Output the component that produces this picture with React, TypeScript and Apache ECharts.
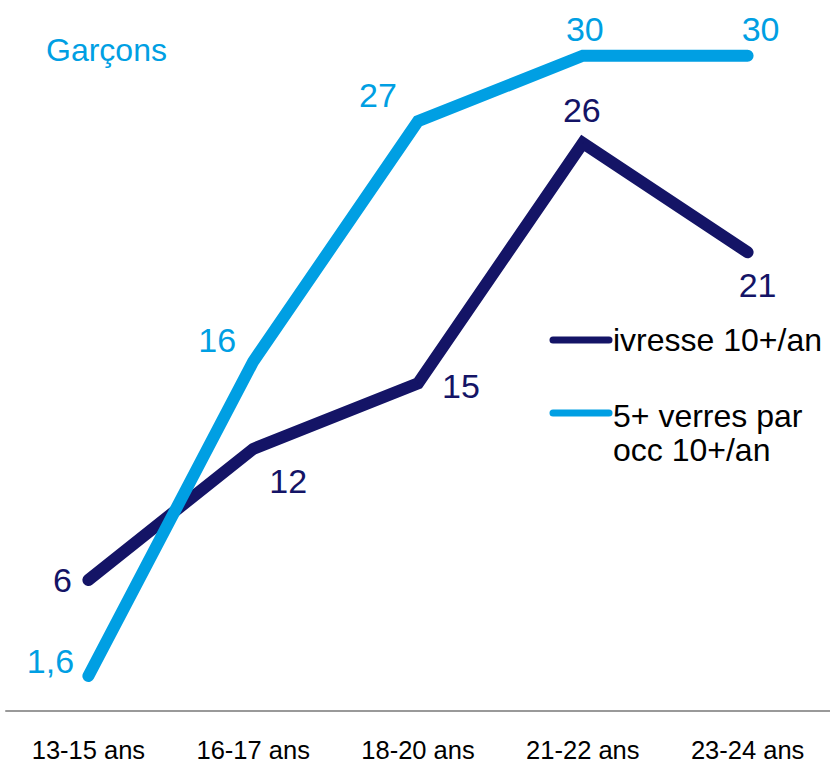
import React, { useEffect, useRef } from "react";
import * as echarts from "echarts";

const categories = ["13-15 ans", "16-17 ans", "18-20 ans", "21-22 ans", "23-24 ans"];
const ivresse = [6, 12, 15, 26, 21];
const binge = [1.6, 16, 27, 30, 30];
const seriesNames = ["ivresse 10+/an", "5+ verres par occ 10+/an"];
const titleText = "Garçons";

const DARK = "#141466";
const LIGHT = "#009FE3";
const FONT = '"Liberation Sans", Arial, sans-serif';

// label offsets relative to each point (layout only)
const darkOffsets = [[-26, 0], [35, 32], [43, 3], [-1, -33], [10, 33]];
const lightOffsets = [[-38, -15], [-36, -22], [-40, -26], [2, -27], [13, -27]];

const fmt = (v: number) => String(v).replace(".", ",");

function buildData(values: number[], offsets: number[][], color: string) {
  return values.map((v, i) => ({
    value: v,
    label: {
      show: true,
      position: "inside",
      offset: offsets[i],
      formatter: fmt(v),
      color,
      fontSize: 34,
      fontFamily: FONT,
    },
  }));
}

export default function App() {
  const ref = useRef<HTMLDivElement>(null);
  useEffect(() => {
    if (!ref.current) return;
    const chart = echarts.init(ref.current, null, { renderer: "svg" });
    chart.setOption({
      animation: false,
      backgroundColor: "#ffffff",
      grid: { left: 6, right: -4, top: 12, bottom: 53, containLabel: false },
      xAxis: {
        type: "category",
        data: categories,
        boundaryGap: true,
        axisLine: { show: true, lineStyle: { color: "#999999", width: 2 } },
        axisTick: { show: false },
        axisLabel: { color: "#000000", fontSize: 25.5, fontFamily: FONT, margin: 26 },
        splitLine: { show: false },
      },
      yAxis: {
        type: "value",
        min: 0,
        max: 32,
        show: false,
        splitLine: { show: false },
      },
      series: [
        {
          name: seriesNames[0],
          type: "line",
          data: buildData(ivresse, darkOffsets, DARK),
          symbol: "circle",
          symbolSize: 1,
          itemStyle: { color: DARK },
          lineStyle: { color: DARK, width: 12, cap: "round", join: "miter" },
          z: 2,
        },
        {
          name: seriesNames[1],
          type: "line",
          data: buildData(binge, lightOffsets, LIGHT),
          symbol: "circle",
          symbolSize: 1,
          itemStyle: { color: LIGHT },
          lineStyle: { color: LIGHT, width: 12, cap: "round", join: "miter" },
          z: 3,
        },
      ],
      graphic: [
        {
          type: "text",
          x: 46,
          y: 50,
          style: { text: titleText, fill: LIGHT, fontSize: 32, fontFamily: FONT, verticalAlign: "middle" },
        },
        {
          type: "line",
          shape: { x1: 553, y1: 340, x2: 609, y2: 340 },
          style: { stroke: DARK, lineWidth: 7, lineCap: "round" },
        },
        {
          type: "text",
          x: 613,
          y: 340,
          style: { text: seriesNames[0], fill: "#000000", fontSize: 32, fontFamily: FONT, verticalAlign: "middle" },
        },
        {
          type: "line",
          shape: { x1: 553, y1: 413, x2: 609, y2: 413 },
          style: { stroke: LIGHT, lineWidth: 7, lineCap: "round" },
        },
        {
          type: "text",
          x: 613,
          y: 416,
          style: { text: "5+ verres par", fill: "#000000", fontSize: 32, fontFamily: FONT, verticalAlign: "middle" },
        },
        {
          type: "text",
          x: 613,
          y: 450,
          style: { text: "occ 10+/an", fill: "#000000", fontSize: 32, fontFamily: FONT, verticalAlign: "middle" },
        },
      ],
    });
    return () => chart.dispose();
  }, []);
  return (
    <div
      ref={ref}
      style={{ position: "fixed", left: 0, top: 0, width: 830, height: 764 }}
    />
  );
}
